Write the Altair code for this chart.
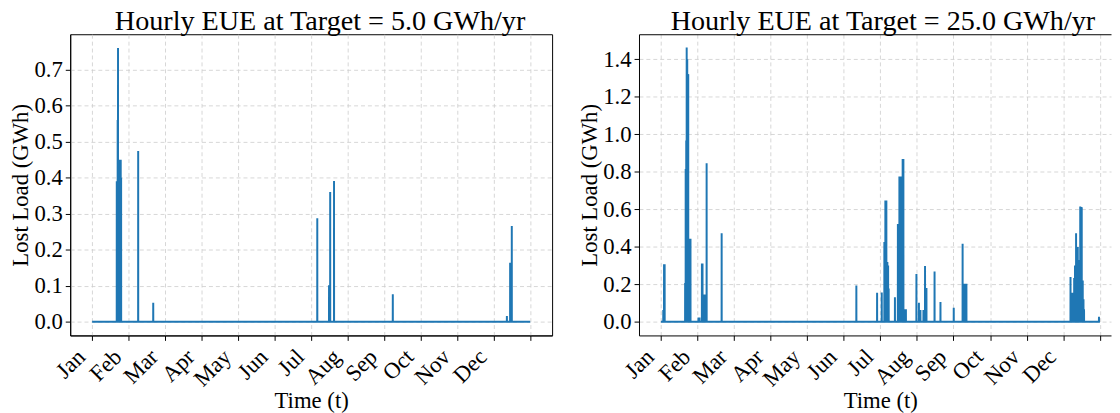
import altair as alt
import pandas as pd

# ---------------- data ----------------
MONTHS = ["Jan", "Feb", "Mar", "Apr", "May", "Jun",
          "Jul", "Aug", "Sep", "Oct", "Nov", "Dec"]
TICK_HOURS = [0, 730, 1460, 2190, 2920, 3650, 4380, 5110,
              5840, 6570, 7300, 8030, 8760]
LAST_HOUR = 8759

# Target = 5.0 GWh/yr : hours with lost load and their values (GWh)
left_hours = [493, 500, 507, 511, 518, 526, 532, 540, 548, 556, 564, 572, 580,
              921, 1222, 4502, 4737, 4760, 4837, 6012, 8293, 8358, 8391]
left_vals = [0.39, 0.30, 0.39, 0.56, 0.76, 0.35, 0.40, 0.45, 0.44, 0.45, 0.43, 0.45, 0.40,
             0.474, 0.053, 0.287, 0.101, 0.360, 0.391, 0.076, 0.016, 0.164, 0.266]

# Target = 25.0 GWh/yr
right_hours = [47, 62, 74,
               483, 494, 505, 514, 525, 535, 545, 560, 575, 590,
               750, 770, 818, 830, 850, 865, 878, 912, 1212,
               3901, 4315, 4408, 4460, 4480, 4500, 4520, 4535, 4546,
               4671, 4730, 4745, 4760, 4775, 4790, 4825, 4840, 4860, 4875, 4890,
               5100, 5150, 5180, 5240, 5272, 5300, 5462, 5580, 5845,
               6022, 6060, 6080, 6098,
               8176, 8190, 8209, 8230, 8249, 8265, 8287, 8300, 8321, 8335,
               8354, 8370, 8385, 8400, 8420, 8435, 8446, 8744]
right_vals = [0.063, 0.306, 0.306,
              0.206, 0.814, 0.967, 1.463, 1.40, 1.321, 1.32, 0.30, 0.443, 0.443,
              0.023, 0.023, 0.311, 0.311, 0.145, 0.145, 0.145, 0.845, 0.472,
              0.193, 0.154, 0.156, 0.425, 0.647, 0.647, 0.318, 0.30, 0.177,
              0.13, 0.521, 0.521, 0.775, 0.775, 0.775, 0.868, 0.868, 0.066, 0.066, 0.066,
              0.255, 0.101, 0.063, 0.063, 0.297, 0.180, 0.268, 0.105, 0.075,
              0.416, 0.203, 0.203, 0.203,
              0.238, 0.10, 0.154, 0.12, 0.233, 0.30, 0.472, 0.35, 0.398, 0.25,
              0.329, 0.615, 0.612, 0.61, 0.220, 0.12, 0.066, 0.027]

left_title = "Hourly EUE at Target = 5.0 GWh/yr"
right_title = "Hourly EUE at Target = 25.0 GWh/yr"
left_yticks = [0.0, 0.1, 0.2, 0.3, 0.4, 0.5, 0.6, 0.7]
right_yticks = [0.0, 0.2, 0.4, 0.6, 0.8, 1.0, 1.2, 1.4]


def build(hours, vals):
    ev = dict(zip(hours, vals))
    pts = {0: 0.0, LAST_HOUR: 0.0}
    for h, v in ev.items():
        pts[h] = v
        for n in (h - 1, h + 1):
            if n not in ev:
                pts[n] = 0.0
    keys = sorted(pts)
    return pd.DataFrame({"hour": keys, "value": [pts[k] for k in keys]})


left_df = build(left_hours, left_vals)
right_df = build(right_hours, right_vals)

FONT = "Liberation Serif"
BLUE = "#1f77b4"
label_expr = "[" + ",".join("'%s'" % m for m in MONTHS) + ",''][round(datum.value / 730)]"

PX_PER_HOUR = 444.4 / 8760.0
margin = 0.05 * LAST_HOUR

COMMON = dict(labelFont=FONT, titleFont=FONT, labelFontSize=23, titleFontSize=23,
              titleFontWeight="normal", labelColor="black", titleColor="black",
              domainColor="black", domainWidth=1, tickColor="black", tickSize=5,
              tickWidth=1, grid=True, gridColor="#cccccc", gridDash=[4, 3],
              gridWidth=0.8, labelFlush=False, labelOverlap=False)


def x_axis(title_x=None):
    kw = dict(COMMON)
    kw.update(values=TICK_HOURS, labelExpr=label_expr, labelAngle=-45,
              labelAlign="right", labelBaseline="top", labelOffset=-19,
              labelPadding=5, title="Time (t)", titleY=55, titleBaseline="top")
    if title_x is not None:
        kw["titleX"] = title_x
    return alt.Axis(**kw)


def y_axis(vals):
    kw = dict(COMMON)
    kw.update(values=vals, format=".1f", title="Lost Load (GWh)",
              titlePadding=1, labelPadding=3)
    return alt.Axis(**kw)


def panel(df, title, yticks, ymax, width, height, right_panel=False):
    ypad = 0.05 * ymax
    ydom = [-ypad, ymax + ypad]
    if right_panel:
        xdom = [-margin, -margin + width / PX_PER_HOUR]
        xa = x_axis(title_x=(LAST_HOUR * 1.1 * PX_PER_HOUR) / 2)
    else:
        xdom = [-margin, LAST_HOUR + margin]
        xa = x_axis(title_x=width / 2)
    xs = alt.Scale(domain=xdom, nice=False, zero=False)
    ys = alt.Scale(domain=ydom, nice=False, zero=False)
    line = alt.Chart(df).mark_line(color=BLUE, strokeWidth=2, clip=True).encode(
        x=alt.X("hour:Q", scale=xs, axis=xa),
        y=alt.Y("value:Q", scale=ys, axis=y_axis(yticks)),
    )
    ttl = alt.TitleParams(title, fontSize=28.5, font=FONT, fontWeight="normal",
                          color="black", offset=-1, dx=8 if right_panel else 9)
    if right_panel:
        top_kw = dict(COMMON)
        top_kw.update(orient="top", labels=False, ticks=False, grid=False,
                      domain=True, title=None)
        top = alt.Chart(df).mark_line(opacity=0).encode(
            x=alt.X("hour:Q", scale=xs, axis=alt.Axis(**top_kw)),
            y=alt.Y("value:Q", scale=ys, axis=y_axis(yticks)),
        )
        ch = alt.layer(line, top).resolve_axis(x="independent").properties(
            width=width, height=height, title=ttl,
            view=alt.ViewBackground(stroke="transparent"))
    else:
        ch = line.properties(width=width, height=height, title=ttl)
    return ch


left = panel(left_df, left_title, left_yticks, 0.76, 488, 305)
right = panel(right_df, right_title, right_yticks, 1.46, 478, 305, right_panel=True)

chart = alt.hconcat(left, right, spacing=25).properties(
    padding={"left": 1, "top": -4, "right": 0, "bottom": 0},
    background="white",
).configure_view(
    stroke="black", strokeWidth=1,
).configure_title(
    font=FONT, color="black", anchor="middle",
)

chart.save("out.html", embed_options={"renderer": "svg", "actions": False})
